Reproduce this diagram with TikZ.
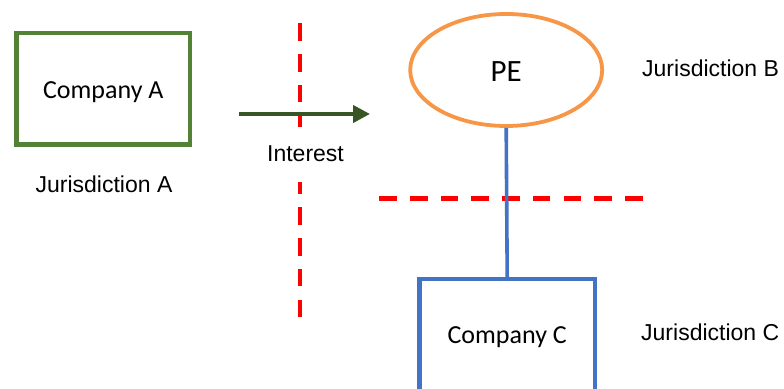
\documentclass[tikz,border=0pt]{standalone}
\usepackage{fontspec}
\setmainfont{Liberation Sans}
\newfontfamily\calib{Carlito}
\usetikzlibrary{arrows.meta,shapes.geometric}
\definecolor{boxgreen}{HTML}{538135}
\definecolor{arrgreen}{HTML}{375623}
\definecolor{peorange}{HTML}{F79646}
\definecolor{cblue}{HTML}{4472C4}
\definecolor{dred}{HTML}{FF0000}
\tikzset{
  compbox/.style={draw, rectangle, line width=4.2pt, inner sep=0pt, font=\calib\fontsize{26}{30}\selectfont},
  pebox/.style={draw=peorange, ellipse, line width=3.8pt, inner sep=0pt, minimum width=192pt, minimum height=112pt, font=\calib\fontsize{31}{36}\selectfont},
  jlabel/.style={inner sep=0pt, font=\fontsize{23}{27}\selectfont},
  redline/.style={draw=dred, line width=4.6pt, dash pattern=on 17.6pt off 13.1pt},
  arrowline/.style={draw=arrgreen, line width=4pt, -{Triangle[length=17pt,width=17pt]}},
  linkline/.style={draw=cblue, line width=3.6pt}
}
\begin{document}
\begin{tikzpicture}[x=1pt,y=1pt]
\useasboundingbox (0,0) rectangle (784,388);
\fill[white] (0,0) rectangle (784,388);
% red dividing lines
\coordinate (vTop) at (300,364.7);
\coordinate (vBot) at (300,69.7);
\coordinate (hL) at (379.3,189.7);
\coordinate (hR) at (643.4,189.7);
\draw[redline] (vTop) -- (vBot);
\draw[redline] (hL) -- (hR);
% nodes
\node[compbox, draw=boxgreen, minimum width=173.5pt, minimum height=111.3pt, text height=20.4pt, text depth=0pt] (compA) at (103.3,299.2) {Company A};
\node[jlabel, anchor=base] (jurA) at (104,195.3) {Jurisdiction A};
\node[pebox, text height=23.4pt, text depth=0pt] (pe) at (506.2,318) {PE};
\node[jlabel, anchor=base west] (jurB) at (642,311.3) {Jurisdiction B};
\node[compbox, draw=cblue, minimum width=175.5pt, minimum height=113pt, text height=17pt, text depth=0pt] (compC) at (507.2,52.5) {Company C};
\node[jlabel, anchor=base west] (jurC) at (641,47) {Jurisdiction C};
\node[jlabel, fill=white, minimum height=55pt, text height=14.2pt, text depth=0pt] (interest) at (305.5,233.8) {Interest};
% connectors
\coordinate (aS) at (239,274);
\coordinate (aE) at (370,274);
\draw[arrowline] (aS) -- (aE);
\draw[linkline] (pe.south) -- (compC.north);
\end{tikzpicture}
\end{document}
